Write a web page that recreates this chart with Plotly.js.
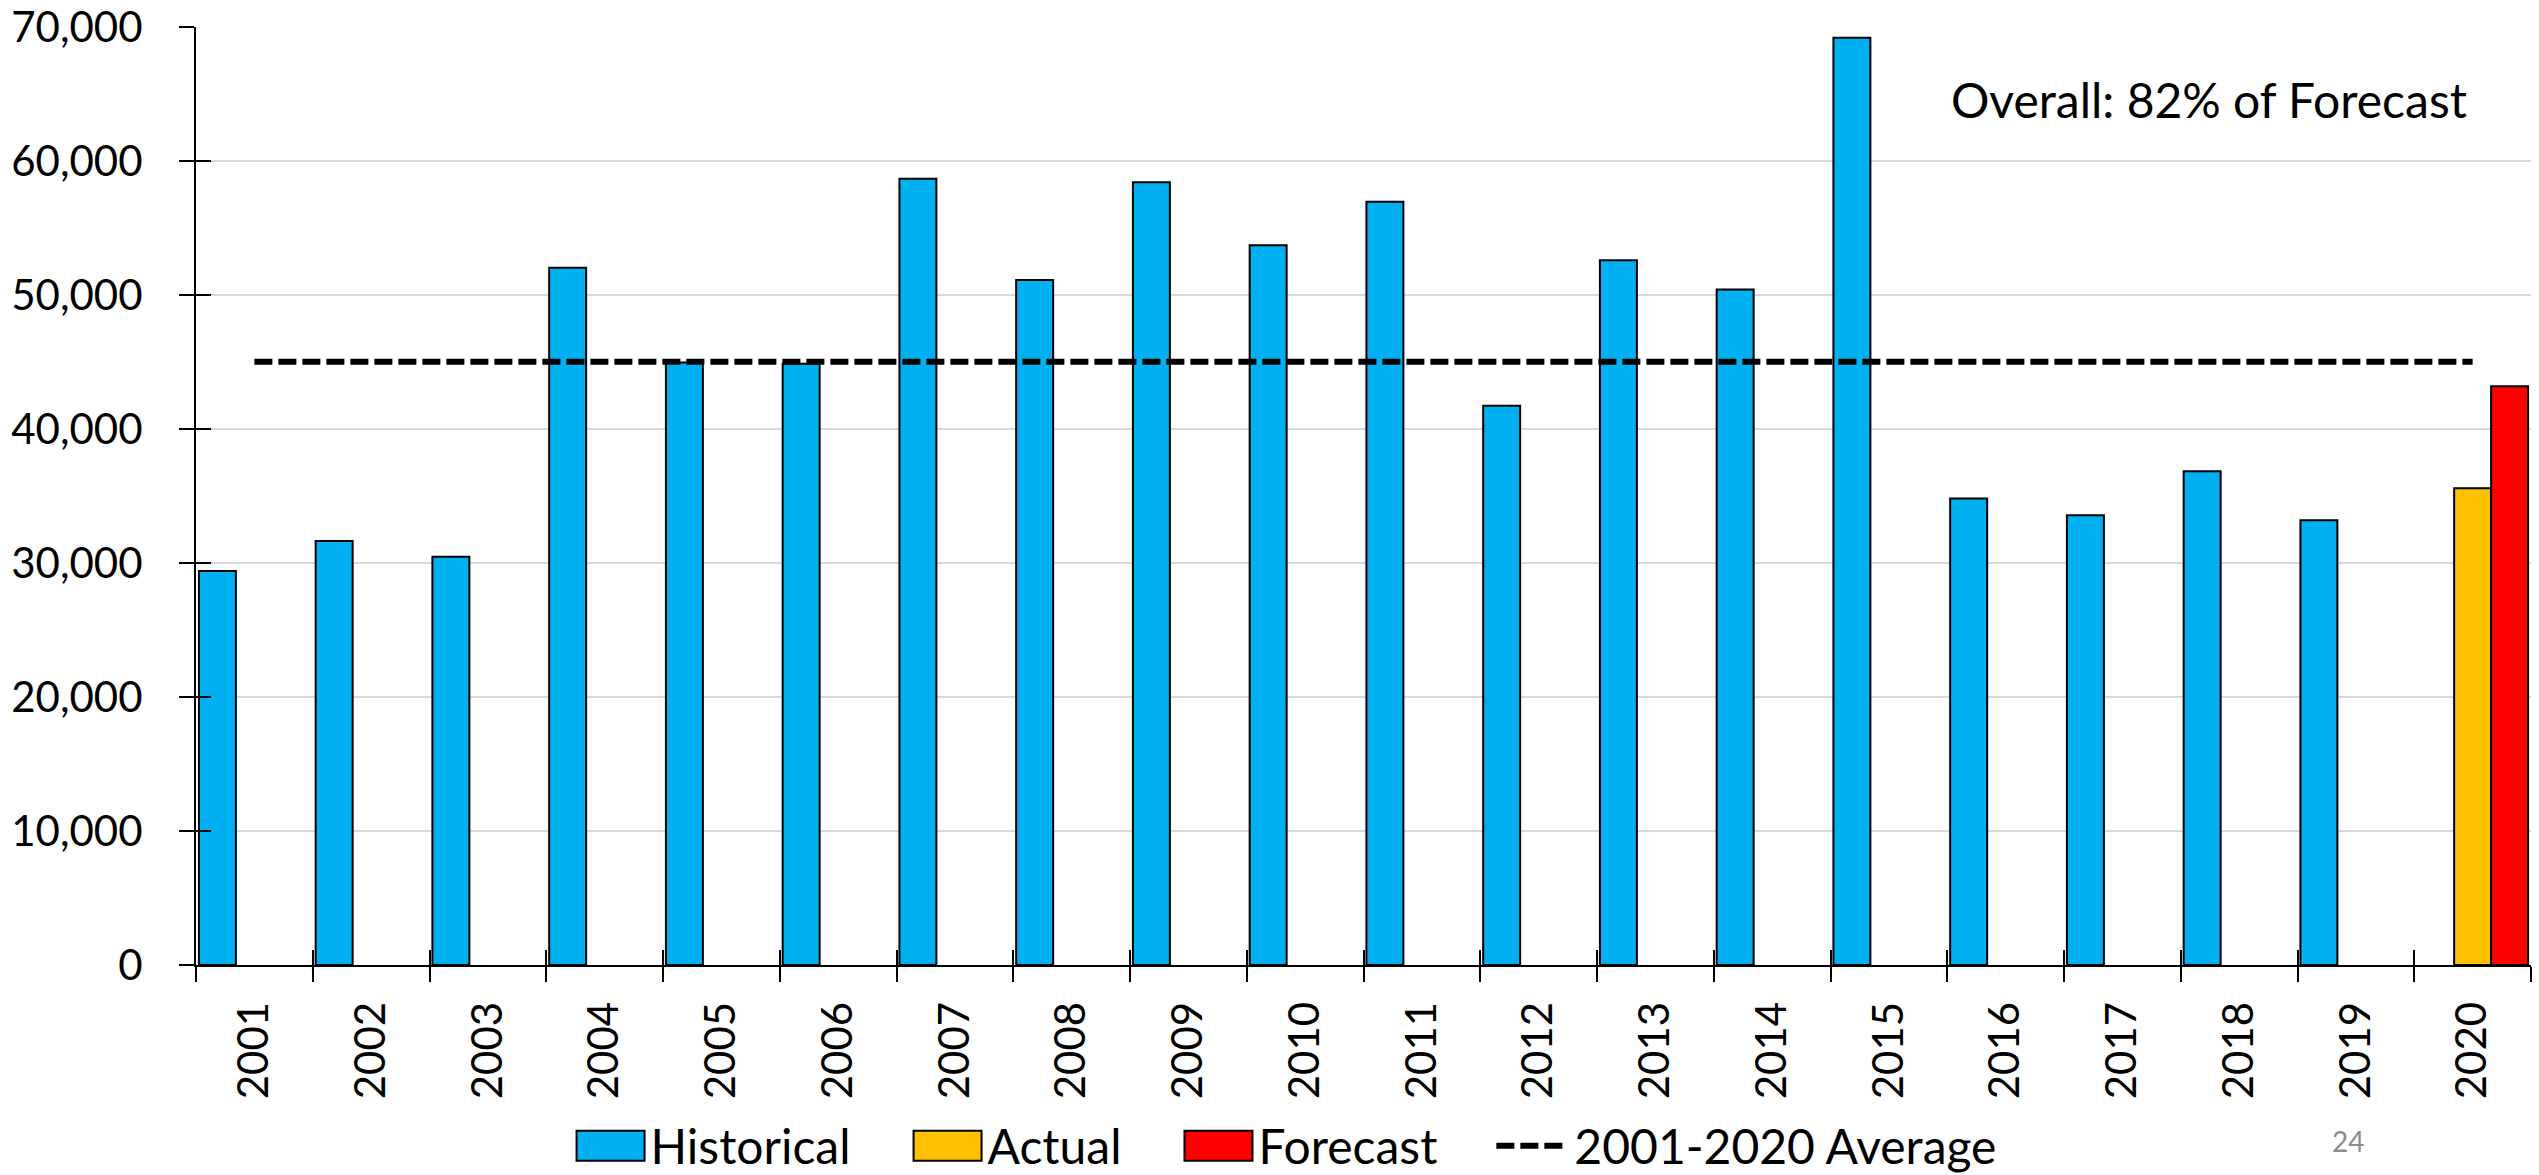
<!DOCTYPE html>
<html>
<head>
<meta charset="utf-8">
<script src="https://cdn.plot.ly/plotly-3.0.1.min.js"></script>
<style>
  html, body { margin: 0; padding: 0; background: #ffffff; }
  #chart { width: 2539px; height: 1175px; }
</style>
</head>
<body>
<div id="chart"></div>
<script>
// ---- Data ----
const years = ["2001","2002","2003","2004","2005","2006","2007","2008","2009","2010",
               "2011","2012","2013","2014","2015","2016","2017","2018","2019","2020"];
const historicalValues = [29410, 31650, 30470, 52040, 44960, 44870, 58670, 51120, 58410, 53720,
                          56960, 41740, 52600, 50410, 69200, 34810, 33570, 36840, 33190, null];
const actualValues = [null, null, null, null, null, null, null, null, null, null,
                      null, null, null, null, null, null, null, null, null, 35580];
const forecastValues = [null, null, null, null, null, null, null, null, null, null,
                        null, null, null, null, null, null, null, null, null, 43190];
const averageValues = [45010, 45010, 45010, 45010, 45010, 45010, 45010, 45010, 45010, 45010,
                       45010, 45010, 45010, 45010, 45010, 45010, 45010, 45010, 45010, 45010];
const seriesNames = ["Historical", "Actual", "Forecast", "2001-2020 Average"];
const annotationText = "Overall: 82% of Forecast";
const pageNumber = "24";
const yTickValues = [0, 10000, 20000, 30000, 40000, 50000, 60000, 70000];

// ---- Styling ----
const FONT = "Lato, 'Open Sans', sans-serif";
const colors = { hist: "#00B0F0", actual: "#FFC000", forecast: "#FF0000" };
const barLine = { color: "#000000", width: 2 };

const traces = [
  { type: "bar", name: seriesNames[0], x: years, y: historicalValues,
    marker: { color: colors.hist, line: barLine } },
  { type: "bar", name: seriesNames[1], x: years, y: actualValues,
    marker: { color: colors.actual, line: barLine } },
  { type: "bar", name: seriesNames[2], x: years, y: forecastValues,
    marker: { color: colors.forecast, line: barLine } },
  { type: "scatter", mode: "lines", name: seriesNames[3], x: years, y: averageValues,
    xaxis: "x2", yaxis: "y2",
    line: { color: "#000000", width: 6, dash: "18px,6px" } }
];

const catRange = [-0.5, years.length - 0.5];
const yRange = [0, 70000];

const layout = {
  width: 2539, height: 1175,
  margin: { l: 196, r: 8, t: 27, b: 210, pad: 0, autoexpand: false },
  paper_bgcolor: "#ffffff", plot_bgcolor: "#ffffff",
  font: { family: FONT, color: "#000000" },
  barmode: "group", bargap: 0.05, bargroupgap: 0,
  showlegend: true,
  legend: {
    orientation: "h", x: 0.4557, xanchor: "center", y: -0.193, yanchor: "middle",
    font: { family: FONT, size: 48, color: "#000000" },
    itemwidth: 122, traceorder: "normal", bgcolor: "rgba(0,0,0,0)",
    itemclick: false, itemdoubleclick: false
  },
  xaxis: {
    type: "category", categoryorder: "array", categoryarray: years, range: catRange,
    tickson: "boundaries", ticks: "outside", ticklen: 15, tickwidth: 2, tickcolor: "#000000",
    showline: true, linecolor: "#000000", linewidth: 2, showgrid: false, zeroline: false,
    tickangle: -90, tickfont: { family: FONT, size: 42, color: "#000000" },
    ticklabelstandoff: 18, fixedrange: true, automargin: false
  },
  yaxis: {
    range: yRange, tickvals: yTickValues, tickformat: ",d",
    ticks: "outside", ticklen: 15, tickwidth: 2, tickcolor: "#000000",
    showline: true, linecolor: "#000000", linewidth: 2,
    showgrid: true, gridcolor: "#D9D9D9", gridwidth: 2, zeroline: false,
    tickfont: { family: FONT, size: 42, color: "#000000" },
    ticklabelstandoff: 28, fixedrange: true, automargin: false
  },
  xaxis2: {
    type: "category", categoryorder: "array", categoryarray: years, range: catRange,
    overlaying: "x", anchor: "y2", side: "bottom",
    tickson: "boundaries", ticks: "inside", ticklen: 15, tickwidth: 2, tickcolor: "#000000",
    showticklabels: false, showline: false, showgrid: false, zeroline: false, fixedrange: true
  },
  yaxis2: {
    range: yRange, tickvals: yTickValues, overlaying: "y", anchor: "x2", side: "left",
    ticks: "inside", ticklen: 15, tickwidth: 2, tickcolor: "#000000",
    showticklabels: false, showline: false, showgrid: false, zeroline: false, fixedrange: true
  },
  annotations: [
    { text: annotationText, xref: "paper", yref: "paper", x: 0.7507, y: 0.923,
      xanchor: "left", yanchor: "middle", showarrow: false,
      font: { family: FONT, size: 48, color: "#000000" } },
    { text: pageNumber, xref: "paper", yref: "paper", x: 0.9216, y: -0.1876,
      xanchor: "center", yanchor: "middle", showarrow: false,
      font: { family: FONT, size: 28, color: "#8C8C8C" } }
  ]
};

// Resize the legend keys to the large boxes of the original chart
function enlargeLegendSymbols() {
  const gd = document.getElementById("chart");
  gd.querySelectorAll(".legend g.traces").forEach(function (item) {
    const textEl = item.querySelector("text.legendtext");
    if (!textEl) return;
    const tr = textEl.getBoundingClientRect();
    const dat = item.__data__;
    const trace = dat && dat[0] && dat[0].trace;
    const isBar = trace ? trace.type === "bar" : !item.querySelector(".legendlines path");
    if (isBar) {
      item.querySelectorAll("g.legendpoints path").forEach(function (bar) {
        bar.setAttribute("d", "M6,6H-6V-6H6Z");
        const pr = bar.getBoundingClientRect();
        const curC = pr.left + pr.width / 2;      // screen x of local 0
        const wantC = tr.left - 6 - 34;
        const c = wantC - curC;
        bar.setAttribute("d", "M" + (c + 34) + ",15H" + (c - 34) + "V-15H" + (c + 34) + "Z");
        bar.style.strokeWidth = "2px";
        bar.style.stroke = "#000000";
      });
    } else {
      const line = item.querySelector(".legendlines path");
      if (line) {
        const bb = line.getBBox();
        const pr = line.getBoundingClientRect();
        const offset = pr.left - bb.x;            // screen = local + offset
        const wantLeft = tr.left - 12 - 66;
        line.setAttribute("d", "M" + (wantLeft - offset) + ",0h66");
      }
    }
  });
}

const gdEl = document.getElementById("chart");
Plotly.newPlot(gdEl, traces, layout, { displayModeBar: false, staticPlot: true })
  .then(function () {
    enlargeLegendSymbols();
    gdEl.on("plotly_afterplot", enlargeLegendSymbols);
    setTimeout(enlargeLegendSymbols, 50);
  });
</script>
</body>
</html>
